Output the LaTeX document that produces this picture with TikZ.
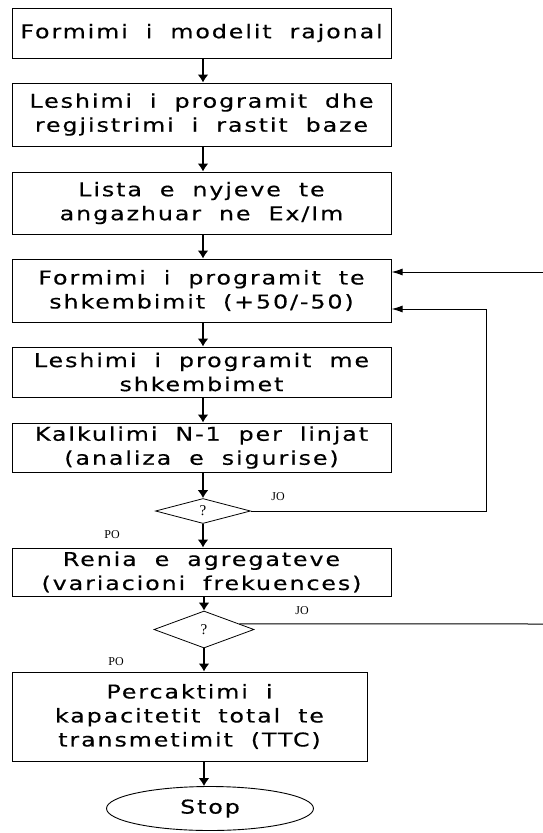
\documentclass[tikz,border=0pt]{standalone}
\usepackage{fontspec}
\setmainfont{DejaVu Sans}
\newfontfamily\boxfont{DejaVu Sans}[FakeStretch=1.25,LetterSpace=10,WordSpace=1.9,FakeBold=0.4]
\newfontfamily\lblfont{Liberation Serif}
\usetikzlibrary{arrows.meta,shapes.geometric,calc}
\begin{document}
\begin{tikzpicture}[x=1pt,y=-1pt,
  stepbox/.style={draw,line width=1pt,rectangle,inner sep=0pt,align=center,
    font={\boxfont\fontsize{19}{24}\selectfont}},
  decide/.style={draw,line width=0.8pt,diamond,inner sep=0pt,
    font={\lblfont\fontsize{15}{15}\selectfont}},
  lbl/.style={inner sep=0pt,font={\lblfont\fontsize{12}{12}\selectfont}},
  flow/.style={line width=2pt,-{Latex[length=8pt,width=11pt]}},
  back/.style={line width=1pt,-{Latex[length=11pt,width=7pt]}},
  plain/.style={line width=1pt}]
\useasboundingbox (0,0) rectangle (543,833);

\node[stepbox,minimum width=379pt,minimum height=50pt] (b1) at (201.5,33) {Formimi i modelit rajonal};
\node[stepbox,minimum width=379pt,minimum height=63pt] (b2) at (201.5,114.5) {Leshimi i programit dhe\\regjistrimi i rastit baze};
\node[stepbox,minimum width=379pt,minimum height=62pt] (b3) at (201.5,203) {Lista e nyjeve te\\angazhuar ne Ex/Im};
\node[stepbox,minimum width=379pt,minimum height=63pt] (b4) at (201.5,290.5) {Formimi i programit te\\shkembimit (+50/-50)};
\node[stepbox,minimum width=379pt,minimum height=50pt] (b5) at (201.5,372) {Leshimi i programit me\\shkembimet};
\node[stepbox,minimum width=379pt,minimum height=49pt] (b6) at (201.5,447.5) {Kalkulimi N-1 per linjat\\(analiza e sigurise)};
\node[decide,minimum width=95pt,minimum height=25pt] (d1) at (203,511) {?};
\node[stepbox,minimum width=379pt,minimum height=48pt] (b7) at (201.5,572) {Renia e agregateve\\(variacioni frekuences)};
\node[decide,minimum width=100pt,minimum height=37pt] (d2) at (204,629.5) {?};
\node[stepbox,minimum width=355pt,minimum height=89pt] (b8) at (189.5,716.5) {Percaktimi i\\kapacitetit total te\\transmetimit (TTC)};
\node[draw,line width=0.9pt,ellipse,inner sep=0pt,minimum width=207pt,minimum height=44pt,
  font={\boxfont\fontsize{19}{24}\selectfont}] (stop) at (210,808.5) {Stop};

\node[lbl] (jo1) at (278,497) {JO};
\node[lbl] (po1) at (112,535) {PO};
\node[lbl] (jo2) at (302,611) {JO};
\node[lbl] (po2) at (116,662) {PO};

\draw[flow] (b1.south -| d1.north) -- (b2.north -| d1.north);
\draw[flow] (b2.south -| d1.north) -- (b3.north -| d1.north);
\draw[flow] (b3.south -| d1.north) -- (b4.north -| d1.north);
\draw[flow] (b4.south -| d1.north) -- (b5.north -| d1.north);
\draw[flow] (b5.south -| d1.north) -- (b6.north -| d1.north);
\draw[flow] (b6.south -| d1.north) -- (d1.north);
\draw[flow] (d1.south) -- (d1.south |- b7.north);
\draw[flow] (b7.south -| d2.north) -- (d2.north);
\draw[flow] (d2.south) -- (d2.south |- b8.north);
\draw[flow] (d2.south |- b8.south) -- (d2.south |- stop.north);

\coordinate (r1) at (543,272);
\coordinate (r2) at (543,624);
\coordinate (lp) at (486,309);
\draw[back] (r1) -- (r1 -| b4.east);
\draw[back] (d1.east) -| (lp) -- (lp -| b4.east);
\draw[plain] ($(d2.east)!0.3!(d2.north)$) -- (r2);
\end{tikzpicture}
\end{document}
